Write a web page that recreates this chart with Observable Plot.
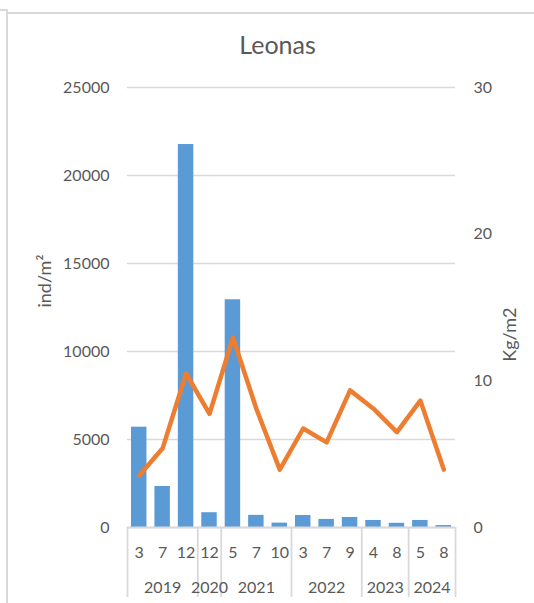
<!DOCTYPE html>
<html>
<head>
<meta charset="utf-8">
<script src="https://cdn.jsdelivr.net/npm/d3@7"></script>
<script src="https://cdn.jsdelivr.net/npm/@observablehq/plot@0.6"></script>
<style>
  html, body { margin: 0; padding: 0; background: #fff; }
  body { width: 534px; height: 603px; position: relative; overflow: hidden; }
  #chart { position: absolute; left: 0; top: 0; }
  .edge { position: absolute; background: #d9d9d9; }
</style>
</head>
<body>
<div class="edge" style="left:0;top:9px;width:7px;height:2px"></div>
<div class="edge" style="left:6px;top:9px;width:2px;height:594px"></div>
<div class="edge" style="left:7px;top:12px;width:527px;height:2px"></div>
<div id="chart"></div>
<script>
const title = "Leonas";
const leftAxisLabel = "ind/m²";
const rightAxisLabel = "Kg/m2";
const categoryMonths = ["3", "7", "12", "12", "5", "7", "10", "3", "7", "9", "4", "8", "5", "8"];
const categoryYears = ["2019", "2019", "2019", "2020", "2021", "2021", "2021", "2022", "2022", "2022", "2023", "2023", "2024", "2024"];
const indPerM2 = [5700, 2330, 21760, 840, 12940, 690, 250, 680, 460, 570, 400, 240, 400, 110];
const kgPerM2 = [3.55, 5.4, 10.5, 7.75, 12.95, 8.1, 3.95, 6.75, 5.8, 9.35, 8.1, 6.5, 8.65, 3.95];
const leftTicks = [0, 5000, 10000, 15000, 20000, 25000];
const rightTicks = [0, 10, 20, 30];

const leftMax = 25000, rightMax = 30;
const toLeft = v => v * leftMax / rightMax;
const fromLeft = v => String(Math.round(v * rightMax / leftMax));

const rows = categoryMonths.map((m, i) => ({i, month: m, year: categoryYears[i], ind: indPerM2[i], kg: kgPerM2[i]}));

const yearGroups = [];
categoryYears.forEach((y, i) => {
  const last = yearGroups[yearGroups.length - 1];
  if (last && last.year === y) last.end = i;
  else yearGroups.push({year: y, start: i, end: i});
});
yearGroups.forEach(g => g.mid = (g.start + g.end) / 2);
const boundaries = [-0.5, ...yearGroups.map(g => g.end + 0.5)];

const gray = "#d9d9d9";
const textColor = "#595959";
const font = "Lato, 'Open Sans', sans-serif";

const plot = Plot.plot({
  width: 534,
  height: 603,
  marginLeft: 127,
  marginRight: 79,
  marginTop: 87,
  marginBottom: 76,
  style: {fontFamily: font, fontSize: "16px", color: textColor, background: "transparent", overflow: "visible"},
  x: {domain: [-0.5, categoryMonths.length - 0.5], axis: null},
  y: {domain: [0, leftMax], axis: null},
  marks: [
    Plot.gridY(leftTicks, {stroke: gray, strokeOpacity: 1, strokeWidth: 1.5}),
    Plot.axisY(leftTicks, {anchor: "left", tickSize: 0, tickPadding: 18, fontSize: 16, fill: textColor, label: null, tickFormat: d => String(d)}),
    Plot.axisY(rightTicks.map(toLeft), {anchor: "right", tickSize: 0, tickPadding: 18, fontSize: 16, fill: textColor, label: null, tickFormat: fromLeft}),
    Plot.rectY(rows, {x1: d => d.i - 0.33, x2: d => d.i + 0.33, y: "ind", fill: "#5b9bd5"}),
    Plot.ruleX(boundaries, {x: d => d, stroke: gray, strokeWidth: 1.8, insetTop: 440, insetBottom: -70}),
    Plot.ruleY([0], {stroke: gray, strokeWidth: 1.8}),
    Plot.line(rows, {x: "i", y: d => toLeft(d.kg), stroke: "#ed7d31", strokeWidth: 4.5, strokeLinejoin: "round", strokeLinecap: "round"}),
    Plot.text(rows, {x: "i", text: "month", frameAnchor: "bottom", lineAnchor: "middle", dy: 25, fontSize: 16, fill: textColor}),
    Plot.text(yearGroups, {x: "mid", text: "year", frameAnchor: "bottom", lineAnchor: "middle", dy: 60, fontSize: 16, fill: textColor}),
    Plot.text([leftAxisLabel], {text: d => d, frameAnchor: "left", lineAnchor: "middle", rotate: -90, dx: -82, fontSize: 18, fill: textColor}),
    Plot.text([rightAxisLabel], {text: d => d, frameAnchor: "right", lineAnchor: "middle", rotate: -90, dx: 55, fontSize: 18, fill: textColor}),
    Plot.text([title], {text: d => d, frameAnchor: "top", lineAnchor: "middle", dx: -14, dy: -42, fontSize: 25, fill: textColor})
  ]
});
document.getElementById("chart").appendChild(plot);
</script>
</body>
</html>
